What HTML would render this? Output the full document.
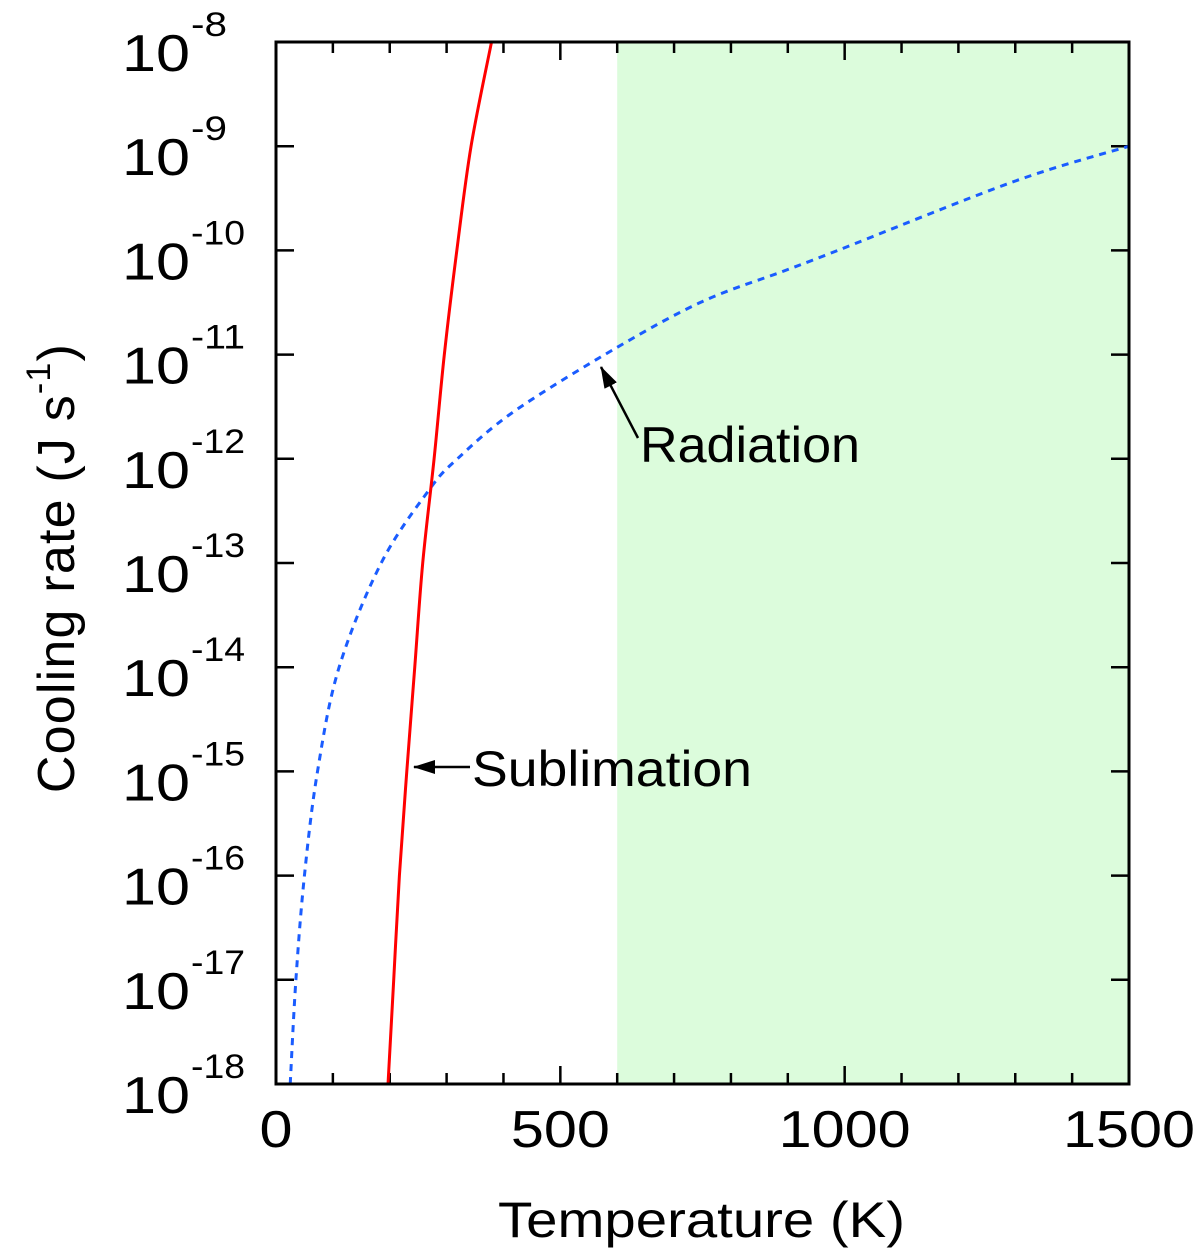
<!DOCTYPE html>
<html><head><meta charset="utf-8"><style>
body{margin:0;background:#fff}
svg{display:block;font-family:"Liberation Sans",sans-serif}
</style></head><body>
<svg id="chart" width="1200" height="1253" viewBox="0 0 1200 1253" xmlns="http://www.w3.org/2000/svg">
<g id="plot"></g>
</svg>
<script>
const xTicks=[0,500,1000,1500];
const yDecades=[-8,-9,-10,-11,-12,-13,-14,-15,-16,-17,-18];
const greenStart=600;
const radT=[25,35,50,73,111,185,269,319,420,600,750,892,988,1297,1500];
const radLog=[-18,-17,-16,-15,-14,-13,-12.3,-12,-11.54,-10.93,-10.49,-10.2,-10,-9.34,-9];
const subT=[197,207,217,230,244,258,278,296,318,343,379];
const subLog=[-18,-17,-16,-15,-14,-13,-12,-11,-10,-9,-8];

const L=276,R=1129,T=42,B=1084;
const xS=v=>L+(v-0)/(1500-0)*(R-L);
const yS=v=>T+(-8-v)/10*(B-T);
const NS='http://www.w3.org/2000/svg';
const g=document.getElementById('plot');
function mk(tag,attrs,parent){const e=document.createElementNS(NS,tag);for(const k in attrs)e.setAttribute(k,attrs[k]);(parent||g).appendChild(e);return e;}
function smooth(pts){let d='M'+pts[0][0]+','+pts[0][1];
 for(let i=0;i<pts.length-1;i++){const p0=pts[Math.max(0,i-1)],p1=pts[i],p2=pts[i+1],p3=pts[Math.min(pts.length-1,i+2)];
  const c1=[p1[0]+(p2[0]-p0[0])/6,p1[1]+(p2[1]-p0[1])/6],c2=[p2[0]-(p3[0]-p1[0])/6,p2[1]-(p3[1]-p1[1])/6];
  d+=' C'+c1.join(',')+' '+c2.join(',')+' '+p2.join(',');}
 return d;}

let e=mk('rect',{x:xS(greenStart),y:T,width:R-xS(greenStart),height:B-T,fill:'#dcfcdc'});



for(let v=0;v<=1500;v+=100){const x=xS(v);const len=v%500===0?18:11;
 mk('line',{x1:x,y1:B,x2:x,y2:B-len,stroke:'#000','stroke-width':2.5});
 mk('line',{x1:x,y1:T,x2:x,y2:T+len,stroke:'#000','stroke-width':2.5});}
yDecades.forEach(d=>{const y=yS(d);
 mk('line',{x1:L,y1:y,x2:L+18,y2:y,stroke:'#000','stroke-width':2.5});
 mk('line',{x1:R,y1:y,x2:R-18,y2:y,stroke:'#000','stroke-width':2.5});});

const clip=mk('clipPath',{id:'pc'});mk('rect',{x:L,y:T,width:R-L,height:B-T},clip);
e=mk('path',{d:smooth(radT.map((t,i)=>[xS(t),yS(radLog[i])])),fill:'none',stroke:'#1a5cff','stroke-width':3,'stroke-dasharray':'7,6','clip-path':'url(#pc)'});


e=mk('path',{d:smooth(subT.map((t,i)=>[xS(t),yS(subLog[i])])),fill:'none',stroke:'#ff0000','stroke-width':3,'clip-path':'url(#pc)'});



e=mk('rect',{x:L,y:T,width:R-L,height:B-T,fill:'none',stroke:'#000','stroke-width':3});



xTicks.forEach(v=>{const s=String(v);const t=mk('text',{x:xS(v),y:1147,'font-size':52,'text-anchor':'middle',textLength:33*s.length,lengthAdjust:'spacingAndGlyphs'});t.textContent=s;
 
 });
yDecades.forEach(d=>{const y=yS(d);
 const t=mk('text',{x:122,y:y+29,'font-size':52,textLength:68,lengthAdjust:'spacingAndGlyphs'});t.textContent='10';
 
 
 const s=String(d);
 const e2=mk('text',{x:191,y:y-6,'font-size':34,textLength:s.length*18,lengthAdjust:'spacingAndGlyphs'});e2.textContent=s;
 
 });

e=mk('text',{x:498,y:1237,'font-size':50,textLength:407,lengthAdjust:'spacingAndGlyphs'});e.textContent='Temperature (K)';


const yt=mk('text',{x:0,y:0,'font-size':52,'text-anchor':'middle','letter-spacing':1.2,transform:'translate(74,568) rotate(-90)'});
yt.innerHTML='Cooling rate (J s<tspan dy="-24" font-size="34">-1</tspan><tspan dy="24">)</tspan>';



const defs=mk('defs',{});const m=mk('marker',{id:'ah',markerWidth:22,markerHeight:14,refX:21,refY:7,orient:'auto',markerUnits:'userSpaceOnUse'},defs);
mk('path',{d:'M0,0 L22,7 L0,14 Z',fill:'#000'},m);
e=mk('line',{x1:638,y1:438,x2:601,y2:367,stroke:'#000','stroke-width':2.5,'marker-end':'url(#ah)'});


e=mk('text',{x:640,y:462,'font-size':50,textLength:220,lengthAdjust:'spacingAndGlyphs'});e.textContent='Radiation';


e=mk('line',{x1:470,y1:767,x2:414,y2:767,stroke:'#000','stroke-width':2.5,'marker-end':'url(#ah)'});


e=mk('text',{x:472,y:786,'font-size':50,textLength:280,lengthAdjust:'spacingAndGlyphs'});e.textContent='Sublimation';


</script>
</body></html>
